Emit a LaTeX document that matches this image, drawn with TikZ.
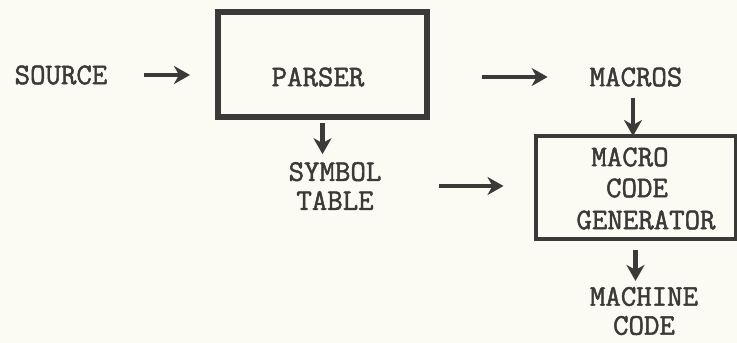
\documentclass[tikz,border=0pt]{standalone}
\usepackage{fontspec}
\newfontfamily\typew{Latin Modern Mono}[FakeBold=1.6]
\usetikzlibrary{arrows.meta}
\definecolor{paper}{HTML}{FBFBF3}
\definecolor{ink}{HTML}{3A3A38}
\begin{document}
\begin{tikzpicture}[x=1pt,y=-1pt,
  txt/.style={font=\typew\fontsize{30}{29}\selectfont, text=ink, inner sep=0pt, outer sep=0pt, align=center},
  blk/.style={draw=ink, inner sep=0pt, outer sep=0pt},
  arr/.style={draw=ink, line width=4.5pt, -{Stealth[length=16pt,width=18pt,inset=5pt]}}]
\fill[paper] (0,0) rectangle (737,343);
\useasboundingbox (0,0) rectangle (737,343);
% nodes
\node[txt] (source) at (61,75) {SOURCE};
\node[blk, line width=6pt, minimum width=209pt, minimum height=105pt] (parser) at (322.5,64.5) {};
\node[txt] (parsertext) at (318,77) {PARSER};
\node[txt] (macros) at (636,77) {MACROS};
\node[txt] (symbol) at (335,186) {SYMBOL\\TABLE};
\node[blk, line width=4pt, minimum width=200pt, minimum height=103pt] (gen) at (635.5,187.5) {};
\node[txt] (genl1) at (630,157) {MACRO};
\node[txt] (genl2) at (637,188) {CODE};
\node[txt] (genl3) at (646,220) {GENERATOR};
\node[txt] (machine) at (644,311) {MACHINE\\CODE};
% connectors
\draw[arr, shorten <=37pt, shorten >=28pt] (source.east) -- (parser.west |- source.east);
\draw[arr, shorten <=55pt, shorten >=42pt] (parser.east |- macros.west) -- (macros.west);
\draw[arr, shorten <=6pt, shorten >=8pt] (parser.south) -- (parser.south |- symbol.north);
\draw[arr, shorten <=11pt, shorten >=0pt] ([xshift=-3pt]macros.south) -- ([xshift=-3pt]macros.south |- gen.north);
\draw[arr, shorten <=58pt, shorten >=32pt] (symbol.east) -- (gen.west |- symbol.east);
\draw[arr, shorten <=11pt, shorten >=6pt] (gen.south) -- (gen.south |- machine.north);
\end{tikzpicture}
\end{document}
